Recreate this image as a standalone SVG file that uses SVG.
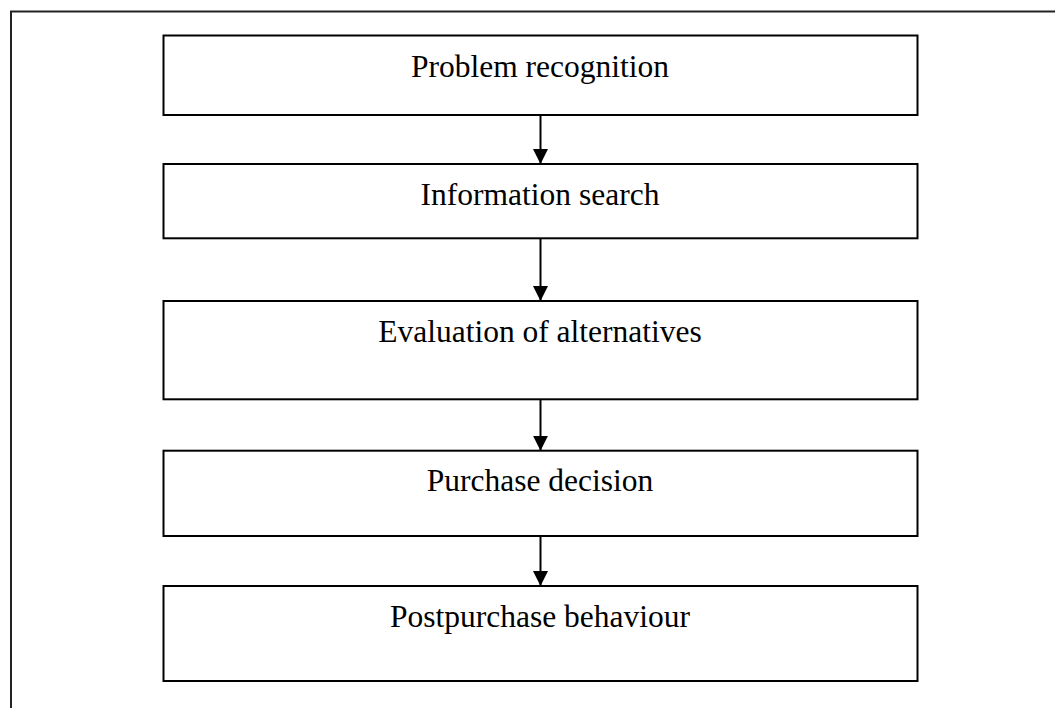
<svg xmlns="http://www.w3.org/2000/svg" width="1055" height="708" viewBox="0 0 1055 708">
<style>
.box{fill:#fff;stroke:#000;stroke-width:2}
.lbl{font-family:"Liberation Serif","Times New Roman",serif;font-size:31.5px;fill:#000;text-anchor:middle}
.conn{stroke:#000;stroke-width:2;fill:none}
</style>
<defs>
<marker id="ah" markerUnits="userSpaceOnUse" markerWidth="16" markerHeight="17" refX="15" refY="7.5" orient="auto">
<path d="M0,0 L15,7.5 L0,15 Z" fill="#000"/>
</marker>
</defs>
<rect x="0" y="0" width="1055" height="708" fill="#fff"/>
<rect id="frame" x="11" y="11.5" width="1060" height="710" fill="none" stroke="#222" stroke-width="2"/>
<g id="n1"><rect class="box" x="163.5" y="35.5" width="754" height="79.5"/><text class="lbl" x="540" y="76.7">Problem recognition</text></g>
<g id="n2"><rect class="box" x="163.5" y="164" width="754" height="74.3"/><text class="lbl" x="540" y="205">Information search</text></g>
<g id="n3"><rect class="box" x="163.5" y="301" width="754" height="98.3"/><text class="lbl" x="540" y="342.3">Evaluation of alternatives</text></g>
<g id="n4"><rect class="box" x="163.5" y="450.7" width="754" height="85.3"/><text class="lbl" x="540" y="491">Purchase decision</text></g>
<g id="n5"><rect class="box" x="163.5" y="586" width="754" height="95"/><text class="lbl" x="540" y="626.7">Postpurchase behaviour</text></g>
<g id="connectors">
<line class="conn" x1="540.5" y1="115" x2="540.5" y2="164" marker-end="url(#ah)"/>
<line class="conn" x1="540.5" y1="238.3" x2="540.5" y2="301" marker-end="url(#ah)"/>
<line class="conn" x1="540.5" y1="399.3" x2="540.5" y2="450.7" marker-end="url(#ah)"/>
<line class="conn" x1="540.5" y1="536" x2="540.5" y2="586" marker-end="url(#ah)"/>
</g>
</svg>
